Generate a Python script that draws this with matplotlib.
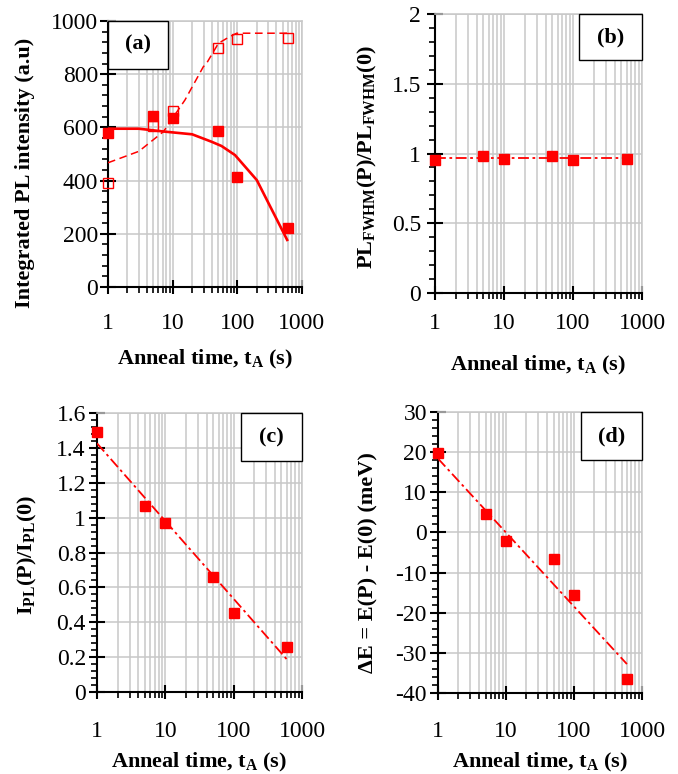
import matplotlib
matplotlib.use('Agg')
import matplotlib.pyplot as plt
from matplotlib.patches import Rectangle
from matplotlib.ticker import (MultipleLocator, LogLocator, FixedLocator, FixedFormatter,
                               NullFormatter, FormatStrFormatter)

plt.rcParams['font.family'] = 'Liberation Serif'
plt.rcParams['mathtext.fontset'] = 'custom'
plt.rcParams['mathtext.rm'] = 'Liberation Serif'
plt.rcParams['mathtext.bf'] = 'Liberation Serif:bold'
plt.rcParams['mathtext.it'] = 'Liberation Serif:italic'
plt.rcParams['axes.unicode_minus'] = False

# anneal times (s)
t_anneal = [1, 5, 10, 50, 100, 600]

# (a) integrated PL intensity
pl_filled = [578, 643, 634, 588, 415, 221]
pl_open = [392, 607, 662, 900, 934, 935]
fit_a_t = [1, 3, 7.6, 20, 40, 57, 92, 200, 590]
fit_a_y = [595, 595, 584, 574, 546, 530, 496, 402, 177]
fit_open_t = [1, 3, 7.2, 15.5, 29.8, 33.5, 51, 76, 98, 600]
fit_open_y = [467, 510, 584, 703, 828, 841, 916, 941, 954, 954]

# (b) FWHM ratio
fwhm_ratio = [0.953, 0.984, 0.961, 0.984, 0.953, 0.961]
fit_b_t = [1, 600]
fit_b_y = [0.965, 0.965]

# (c) intensity ratio
ipl_ratio = [1.493, 1.066, 0.967, 0.661, 0.455, 0.256]
fit_c_t = [1, 600]
fit_c_y = [1.426, 0.187]

# (d) energy shift (meV)
delta_e = [19.7, 4.6, -2.1, -6.6, -15.6, -36.5]
fit_d_t = [1, 600]
fit_d_y = [18.4, -32.8]

red = '#ff0000'
gridc = '#c8c8c8'

fig = plt.figure(figsize=(6.78, 7.74), dpi=100)
ax_a = fig.add_axes([0.1593, 0.6292, 0.2861, 0.3437])
ax_b = fig.add_axes([0.6416, 0.6214, 0.3053, 0.3605])
ax_c = fig.add_axes([0.1431, 0.1059, 0.3024, 0.3605])
ax_d = fig.add_axes([0.6460, 0.1047, 0.3009, 0.3630])


def style(ax, ylim, ymaj, ymin, ypad, xpad, label, box):
    ax.set_xscale('log')
    ax.set_xlim(1, 1000)
    ax.set_ylim(*ylim)
    ax.xaxis.set_major_locator(FixedLocator([1, 10, 100, 1000]))
    ax.xaxis.set_major_formatter(FixedFormatter(['1', '10', '100', '1000']))
    ax.xaxis.set_minor_locator(LogLocator(base=10, subs=range(2, 10)))
    ax.xaxis.set_minor_formatter(NullFormatter())
    ax.yaxis.set_major_locator(MultipleLocator(ymaj))
    ax.yaxis.set_minor_locator(MultipleLocator(ymin))
    ax.yaxis.set_major_formatter(FormatStrFormatter('%g'))
    ax.grid(True, which='both', axis='x', color=gridc, lw=1.1, zorder=0)
    ax.grid(True, which='major', axis='y', color=gridc, lw=1.1, zorder=0)
    ax.set_axisbelow(True)
    for s in ['top', 'right']:
        ax.spines[s].set_color(gridc)
        ax.spines[s].set_linewidth(1.1)
    for s in ['left', 'bottom']:
        ax.spines[s].set_linewidth(1.5)
    ax.tick_params(axis='y', which='major', direction='inout', length=11, width=1.5,
                   labelsize=17, pad=ypad)
    ax.tick_params(axis='y', which='minor', direction='out', length=4.5, width=1.2)
    ax.tick_params(axis='x', which='major', direction='inout', length=10, width=1.5,
                   labelsize=17, pad=xpad)
    ax.tick_params(axis='x', which='minor', direction='out', length=4, width=1.2)
    ax.set_xlabel(r'Anneal time, $\mathbf{t_A}$ (s)', fontsize=16, fontweight='bold',
                  va='center')
    x0, y0 = box
    ax.add_patch(Rectangle((x0, y0), 1 - x0 if x0 > 0 else 0.31, 1 - y0,
                           transform=ax.transAxes, facecolor='white', edgecolor='black',
                           lw=1.0, zorder=5, clip_on=False))
    xc = (x0 + 1) / 2 if x0 > 0 else 0.155
    ax.text(xc, (y0 + 1) / 2, label, transform=ax.transAxes,
            ha='center', va='center', fontsize=16, fontweight='bold', zorder=6)


# (a)
style(ax_a, (0, 1000), 200, 40, 1.5, 13.5, '(a)', (0.0, 0.82))
ax_a.plot(fit_open_t, fit_open_y, color=red, lw=1.1, ls=(0, (5, 3)), zorder=3)
ax_a.plot(fit_a_t, fit_a_y, color=red, lw=1.9, zorder=3)
ax_a.plot(t_anneal, pl_open, ls='none', marker='s', ms=6.5, mfc='none', mec=red, mew=1.0,
          zorder=4, clip_on=False)
ax_a.plot(t_anneal, pl_filled, ls='none', marker='s', ms=7, color=red, zorder=4, clip_on=False)
ax_a.set_ylabel('Integrated PL intensity (a.u)', fontsize=16, fontweight='bold', va='center')
ax_a.yaxis.set_label_coords(-0.428, 0.43)
ax_a.xaxis.set_label_coords(0.503, -0.274)

# (b)
style(ax_b, (0, 2), 0.5, 0.1, 4.5, 9.5, '(b)', (0.696, 0.835))
ax_b.plot(fit_b_t, fit_b_y, color=red, lw=1.3, ls=(0, (6, 2, 1.5, 2)), zorder=3)
ax_b.plot(t_anneal, fwhm_ratio, ls='none', marker='s', ms=7, color=red, zorder=4, clip_on=False)
ax_b.set_ylabel(r'$\mathbf{PL_{FWHM}(P)/PL_{FWHM}(0)}$', fontsize=16, va='center')
ax_b.yaxis.set_label_coords(-0.324, 0.487)
ax_b.xaxis.set_label_coords(0.50, -0.258)

# (c)
style(ax_c, (0, 1.6), 0.2, 0.04, 2.5, 15.5, '(c)', (0.702, 0.828))
ax_c.plot(fit_c_t, fit_c_y, color=red, lw=1.3, ls=(0, (6, 2, 1.5, 2)), zorder=3)
ax_c.plot(t_anneal, ipl_ratio, ls='none', marker='s', ms=7, color=red, zorder=4, clip_on=False)
ax_c.set_ylabel(r'$\mathbf{I_{PL}(P)/I_{PL}(0)}$', fontsize=16, va='center')
ax_c.yaxis.set_label_coords(-0.341, 0.49)
ax_c.xaxis.set_label_coords(0.50, -0.254)

# (d)
style(ax_d, (-40, 30), 10, 2, 2.5, 15.5, '(d)', (0.701, 0.829))
ax_d.plot(fit_d_t, fit_d_y, color=red, lw=1.3, ls=(0, (6, 2, 1.5, 2)), zorder=3)
ax_d.plot(t_anneal, delta_e, ls='none', marker='s', ms=7, color=red, zorder=4, clip_on=False)
ax_d.set_ylabel('ΔE = E(P) - E(0) (meV)', fontsize=16, fontweight='bold', va='center')
ax_d.yaxis.set_label_coords(-0.343, 0.463)
ax_d.xaxis.set_label_coords(0.50, -0.249)

fig.savefig('out.png', dpi=100)
